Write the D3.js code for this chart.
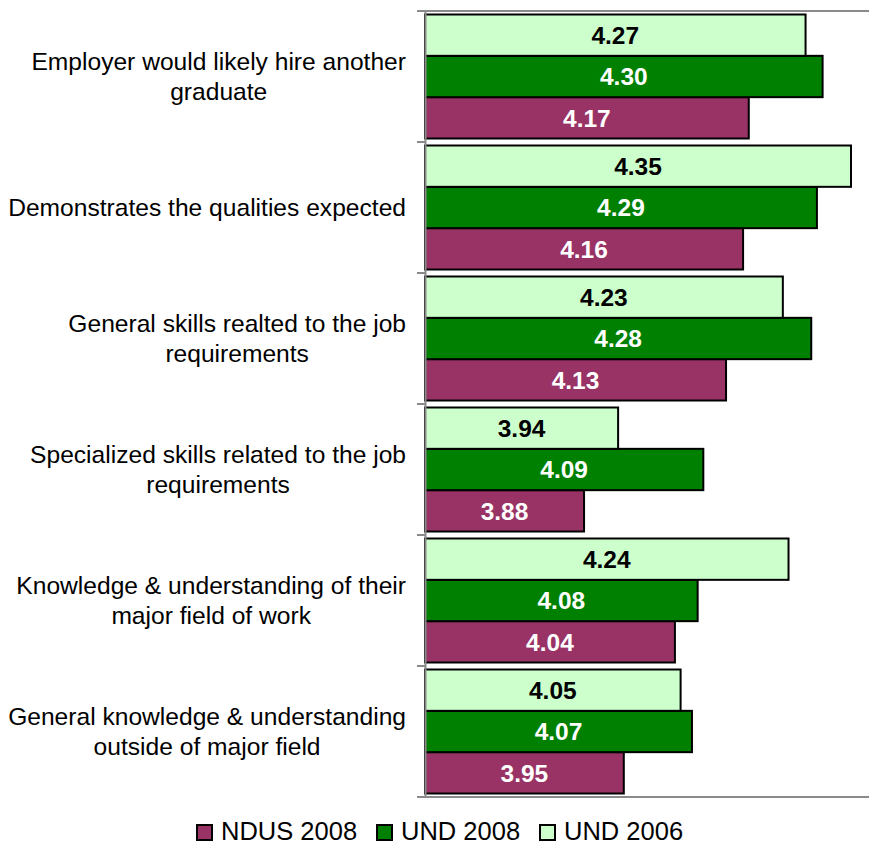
<!DOCTYPE html>
<html>
<head>
<meta charset="utf-8">
<script src="https://cdn.jsdelivr.net/npm/d3@7"></script>
<style>
	body { margin: 0; background: #fff; }
	svg { display: block; font-family: "Liberation Sans", Arial, sans-serif; }
</style>
</head>
<body>
<div id="chart"></div>
<script>

// DATA
const categories = [
	"Employer would likely hire another graduate",
	"Demonstrates the qualities expected",
	"General skills realted to the job requirements",
	"Specialized skills related to the job requirements",
	"Knowledge & understanding of their major field of work",
	"General knowledge & understanding outside of major field"
];
// label lines as wrapped in the original
const labelLines = [
	["Employer would likely hire another", "graduate"],
	["Demonstrates the qualities expected"],
	["General skills realted to the job", "requirements"],
	["Specialized skills related to the job", "requirements"],
	["Knowledge & understanding of their", "major field of work"],
	["General knowledge & understanding", "outside of major field"]
];
const ndus2008 = [4.17, 4.16, 4.13, 3.88, 4.04, 3.95];
const und2008 = [4.30, 4.29, 4.28, 4.09, 4.08, 4.07];
const und2006 = [4.27, 4.35, 4.23, 3.94, 4.24, 4.05];
const seriesNames = ["NDUS 2008", "UND 2008", "UND 2006"];
const xDomain = [3.6, 4.4];


// CHART
function drawChart() {
	const w = 869;
	const h = 846;
	const plotLeft = 425;
	const plotTop = 11;
	const plotBottom = 797;

	const colors = {
		"NDUS 2008": "#993366",
		"UND 2008": "#008000",
		"UND 2006": "#CCFFCC"
	};
	const labelColors = {
		"NDUS 2008": "#fff",
		"UND 2008": "#fff",
		"UND 2006": "#000"
	};
	const seriesValues = {
		"NDUS 2008": ndus2008,
		"UND 2008": und2008,
		"UND 2006": und2006
	};

	const svg = d3.select("#chart")
		.append("svg")
		.attr("width", w)
		.attr("height", h);

	// scales
	const xScale = d3.scaleLinear()
		.domain(xDomain)
		.range([plotLeft, plotLeft + 568 * (xDomain[1] - xDomain[0])]);
	const yScale = d3.scaleBand()
		.domain(categories)
		.range([plotTop, plotBottom])
		.padding(0);
	// bars inside a band, top to bottom: UND 2006, UND 2008, NDUS 2008
	const inner = d3.scaleBand()
		.domain(["UND 2006", "UND 2008", "NDUS 2008"])
		.range([3.5, yScale.bandwidth() - 3.5])
		.padding(0);

	// top border
	svg.append("line")
		.attr("x1", plotLeft).attr("x2", w)
		.attr("y1", plotTop).attr("y2", plotTop)
		.attr("stroke", "#8a8a8a")
		.attr("stroke-width", 2);
	// bottom border
	svg.append("line")
		.attr("x1", plotLeft).attr("x2", w)
		.attr("y1", plotBottom).attr("y2", plotBottom)
		.attr("stroke", "#8a8a8a")
		.attr("stroke-width", 2);

	// rows
	const rows = categories.map((c, i) => ({ cat: c, i: i }));
	const bars = [];
	rows.forEach(r => {
		seriesNames.forEach(s => {
			bars.push({ cat: r.cat, series: s, value: seriesValues[s][r.i] });
		});
	});

	svg.selectAll("rect.bar")
		.data(bars)
		.enter()
		.append("rect")
		.attr("class", "bar")
		.attr("x", xScale(xDomain[0]))
		.attr("y", d => yScale(d.cat) + inner(d.series))
		.attr("width", d => xScale(d.value) - xScale(xDomain[0]))
		.attr("height", inner.bandwidth())
		.attr("fill", d => colors[d.series])
		.attr("stroke", "#000")
		.attr("stroke-width", 2);

	// value labels
	svg.selectAll("text.val")
		.data(bars)
		.enter()
		.append("text")
		.attr("class", "val")
		.attr("x", d => (xScale(xDomain[0]) + xScale(d.value)) / 2)
		.attr("y", d => yScale(d.cat) + inner(d.series) + inner.bandwidth() / 2)
		.attr("dy", "0.36em")
		.attr("text-anchor", "middle")
		.style("font-size", "24.5px")
		.style("font-weight", "bold")
		.attr("fill", d => labelColors[d.series])
		.text(d => d.value.toFixed(2));

	// y-axis
	const yAxis = d3.axisLeft(yScale)
		.tickValues([])
		.tickSizeOuter(0);
	const yAxisG = svg.append("g")
		.attr("transform", `translate(${plotLeft}, 0)`)
		.call(yAxis);
	yAxisG.select(".domain")
		.attr("stroke", "#8a8a8a")
		.attr("stroke-width", 2);
	// tick marks at band boundaries
	const boundaries = categories.map(c => yScale(c)).concat([plotBottom]);
	yAxisG.selectAll("line.bnd")
		.data(boundaries)
		.enter()
		.append("line")
		.attr("class", "bnd")
		.attr("x1", -8).attr("x2", 0)
		.attr("y1", d => d).attr("y2", d => d)
		.attr("stroke", "#8a8a8a")
		.attr("stroke-width", 2);

	// category labels: centered lines, block right-aligned
	const labelRight = 406;
	const lineGap = 30;
	rows.forEach(r => {
		const lines = labelLines[r.i];
		const cy = yScale(r.cat) + yScale.bandwidth() / 2 - 0.5;
		const g = svg.append("g");
		const texts = g.selectAll("text")
			.data(lines)
			.enter()
			.append("text")
			.attr("y", (d, j) => cy + (j - (lines.length - 1) / 2) * lineGap)
			.attr("dy", "0.36em")
			.attr("text-anchor", "middle")
			.style("font-size", "24.6px")
			.attr("fill", "#000")
			.text(d => d);
		let maxW = 0;
		texts.each(function() { maxW = Math.max(maxW, this.getComputedTextLength()); });
		texts.attr("x", labelRight - maxW / 2);
	});

	// legend
	const legendX = [197, 377, 540];
	const legend = svg.append("g");
	seriesNames.forEach((s, i) => {
		legend.append("rect")
			.attr("x", legendX[i])
			.attr("y", 825)
			.attr("width", 15)
			.attr("height", 15)
			.attr("fill", colors[s])
			.attr("stroke", "#000")
			.attr("stroke-width", 2);
		legend.append("text")
			.attr("x", legendX[i] + 24)
			.attr("y", 840)
			.style("font-size", "25.5px")
			.attr("fill", "#000")
			.text(s);
	});
}

document.addEventListener('DOMContentLoaded', () => {
	drawChart();
});
</script>
</body>
</html>
